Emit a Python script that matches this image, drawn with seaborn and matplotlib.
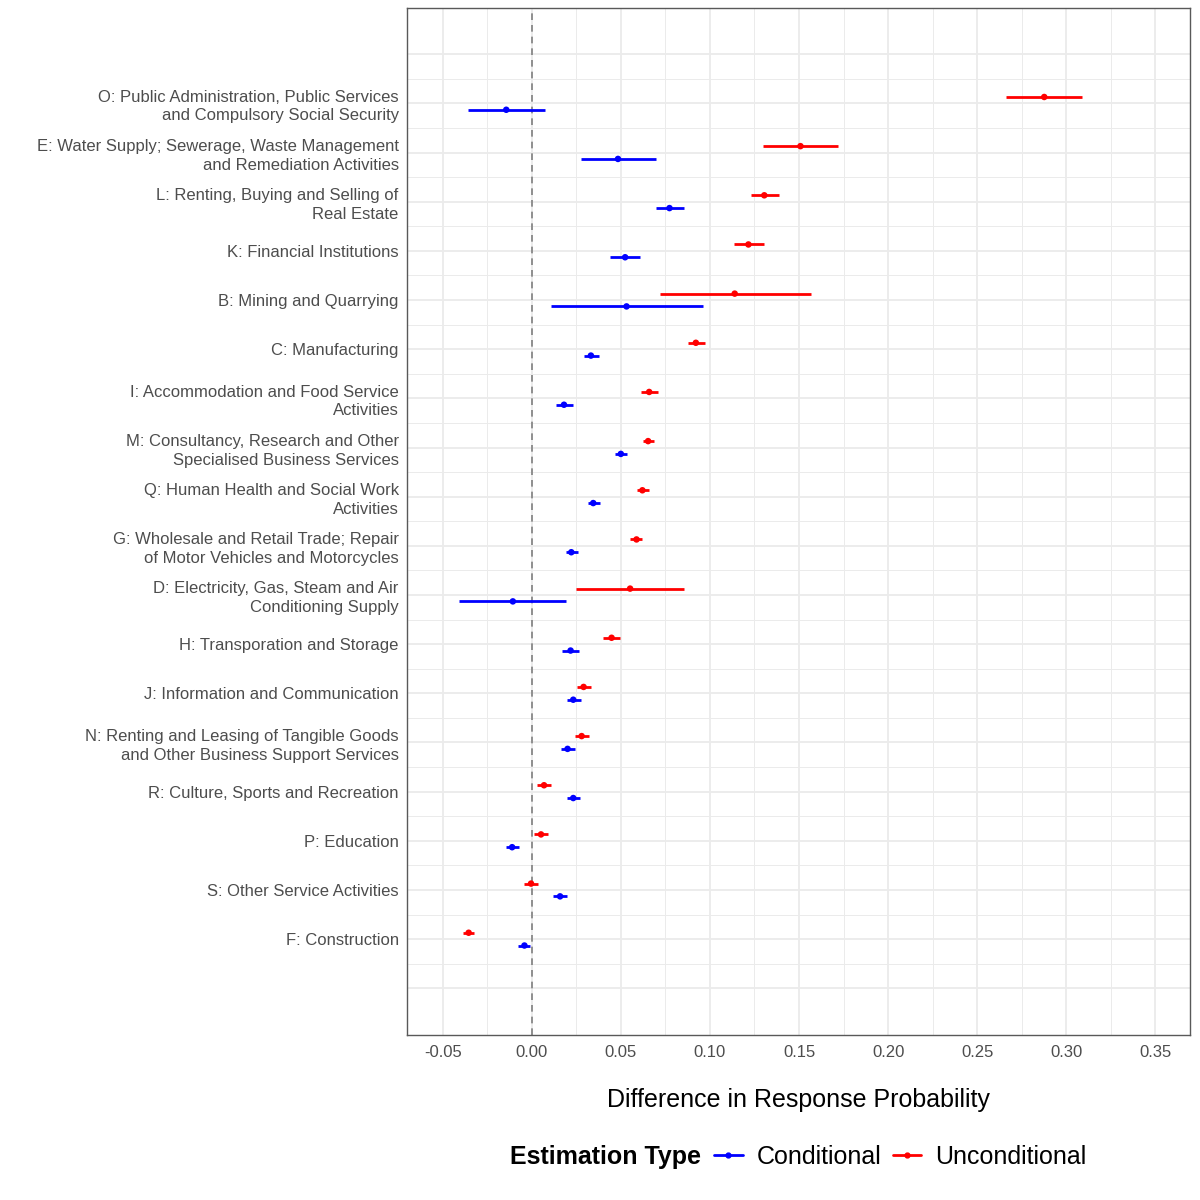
import matplotlib
matplotlib.use("Agg")
import matplotlib.pyplot as plt
from matplotlib.lines import Line2D
import seaborn as sns
import pandas as pd
import numpy as np

# Industries, top to bottom
industries = [
    "O: Public Administration, Public Services\nand Compulsory Social Security",
    "E: Water Supply; Sewerage, Waste Management\nand Remediation Activities",
    "L: Renting, Buying and Selling of\nReal Estate",
    "K: Financial Institutions",
    "B: Mining and Quarrying",
    "C: Manufacturing",
    "I: Accommodation and Food Service\nActivities",
    "M: Consultancy, Research and Other\nSpecialised Business Services",
    "Q: Human Health and Social Work\nActivities",
    "G: Wholesale and Retail Trade; Repair\nof Motor Vehicles and Motorcycles",
    "D: Electricity, Gas, Steam and Air\nConditioning Supply",
    "H: Transporation and Storage",
    "J: Information and Communication",
    "N: Renting and Leasing of Tangible Goods\nand Other Business Support Services",
    "R: Culture, Sports and Recreation",
    "P: Education",
    "S: Other Service Activities",
    "F: Construction",
]

# Unconditional estimates and intervals
uncond_est = [0.2876, 0.1508, 0.1305, 0.1216, 0.1139, 0.0921, 0.0659, 0.0653, 0.0621,
              0.0588, 0.0552, 0.0448, 0.0291, 0.0280, 0.0069, 0.0052, -0.0004, -0.0354]
uncond_lo = [0.2660, 0.1296, 0.1230, 0.1133, 0.0718, 0.0878, 0.0614, 0.0623, 0.0588,
             0.0554, 0.0250, 0.0401, 0.0252, 0.0241, 0.0032, 0.0015, -0.0041, -0.0386]
uncond_hi = [0.3090, 0.1720, 0.1385, 0.1302, 0.1568, 0.0970, 0.0707, 0.0687, 0.0657,
             0.0621, 0.0853, 0.0498, 0.0330, 0.0321, 0.0108, 0.0091, 0.0035, -0.0323]

# Conditional estimates and intervals
cond_est = [-0.0143, 0.0484, 0.0773, 0.0524, 0.0532, 0.0332, 0.0181, 0.0500, 0.0345,
            0.0222, -0.0106, 0.0218, 0.0233, 0.0201, 0.0233, -0.0110, 0.0159, -0.0041]
cond_lo = [-0.0358, 0.0275, 0.0695, 0.0438, 0.0109, 0.0292, 0.0136, 0.0470, 0.0313,
           0.0190, -0.0409, 0.0170, 0.0196, 0.0162, 0.0196, -0.0147, 0.0121, -0.0075]
cond_hi = [0.0072, 0.0698, 0.0853, 0.0607, 0.0959, 0.0378, 0.0229, 0.0534, 0.0381,
           0.0257, 0.0194, 0.0267, 0.0274, 0.0243, 0.0272, -0.0073, 0.0198, -0.0009]

types = ["Conditional", "Unconditional"]
colors = {"Conditional": "#0000FF", "Unconditional": "#FF0000"}
dodge = {"Conditional": 0.13, "Unconditional": -0.13}

# Long data frame
pos = np.arange(len(industries))
df = pd.concat([
    pd.DataFrame({"industry": industries, "pos": pos, "type": "Unconditional",
                  "est": uncond_est, "lo": uncond_lo, "hi": uncond_hi}),
    pd.DataFrame({"industry": industries, "pos": pos, "type": "Conditional",
                  "est": cond_est, "lo": cond_lo, "hi": cond_hi}),
], ignore_index=True)
df["y"] = df["pos"] + df["type"].map(dodge)

sns.set_theme(style="white")
plt.rcParams["font.family"] = ["Liberation Sans", "DejaVu Sans"]
plt.rcParams["text.color"] = "black"

fig = plt.figure(figsize=(12, 12), dpi=100)
ax = fig.add_axes([407 / 1200, 1 - 1035 / 1200, 783 / 1200, 1027 / 1200])

# grid (ggplot theme_bw look)
grid_col = "#EBEBEB"
for v in np.arange(-0.05, 0.351, 0.05):
    ax.axvline(v, color=grid_col, lw=1.3, zorder=0)
for v in np.arange(-0.075, 0.376, 0.05):
    ax.axvline(v, color=grid_col, lw=0.7, zorder=0)
for v in np.arange(-1, len(industries) + 1):
    ax.axhline(v, color=grid_col, lw=1.3, zorder=0)
for v in np.arange(-0.5, len(industries) + 0.5):
    ax.axhline(v, color=grid_col, lw=0.7, zorder=0)

ax.axvline(0, color="#7F7F7F", lw=1.2, ls=(0, (4, 3)), zorder=1)

# error bars
for t in types:
    sub = df[df["type"] == t]
    ax.hlines(sub["y"], sub["lo"], sub["hi"], color=colors[t], lw=2.0, zorder=2)

sns.scatterplot(data=df, x="est", y="y", hue="type", palette=colors, s=22,
                edgecolor="none", legend=False, zorder=3, ax=ax)

ax.set_xlim(-0.070, 0.3694)
ax.set_ylim(len(industries) - 1 + 1.95, -1.94)
ax.set_xticks(np.arange(-0.05, 0.351, 0.05))
ax.set_xticklabels([f"{v:.2f}" for v in np.arange(-0.05, 0.351, 0.05)])
ax.set_yticks(pos)
ax.set_yticklabels(industries, multialignment="right", linespacing=1.3)

ax.tick_params(axis="both", length=3, width=1, color="#333333",
               labelcolor="#4D4D4D", labelsize=12, pad=3)
ax.tick_params(axis="x", pad=4)

for s in ax.spines.values():
    s.set_color("#595959")
    s.set_linewidth(1)

ax.set_ylabel("")
ax.set_xlabel("Difference in Response Probability", fontsize=18, color="black",
              va="center")
ax.xaxis.set_label_coords(0.5, -(1100 - 1035) / 1027)

# legend with title on the left
fig.text(510 / 1200, 1 - 1157 / 1200, "Estimation Type", fontsize=18,
         fontweight="bold", color="black", ha="left", va="center")
handles = [Line2D([0], [0], color=colors[t], lw=2, marker="o", markersize=3.5)
           for t in types]
leg = fig.legend(handles, types, loc="center left", ncol=2, frameon=False,
                 bbox_to_anchor=(714 / 1200, 1 - 1157 / 1200), fontsize=18,
                 handlelength=1.15, handletextpad=0.55, columnspacing=0.45,
                 borderaxespad=0, borderpad=0)
for txt in leg.get_texts():
    txt.set_color("black")

fig.savefig("out.png", dpi=100)
